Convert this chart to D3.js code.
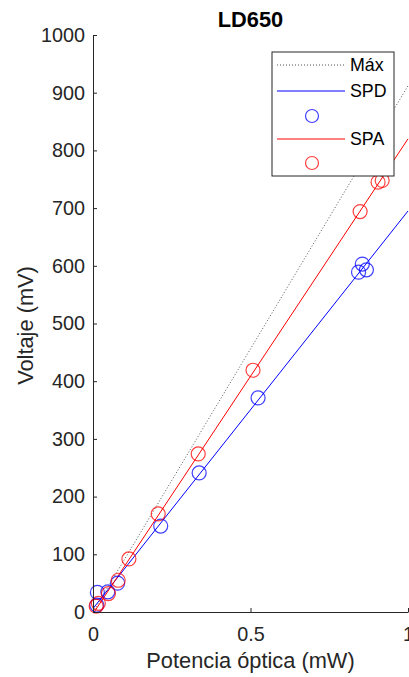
<!DOCTYPE html>
<html>
<head>
<meta charset="utf-8">
<script src="https://cdn.jsdelivr.net/npm/d3@7"></script>
<style>
  body { margin: 0; background: #fff; }
  svg { display: block; font-family: "Liberation Sans", Arial, sans-serif; }
</style>
</head>
<body>
<div id="chart"></div>
<script>
// values (power in mW, voltage in mV)
const xTicks = [0, 0.5, 1];
const yTicks = [0, 100, 200, 300, 400, 500, 600, 700, 800, 900, 1000];

const maxX = [0, 1];
const maxY = [0, 912];

const spdFitX = [0, 1];
const spdFitY = [6, 695];
const spdX = [0.012, 0.014, 0.047, 0.078, 0.215, 0.337, 0.524, 0.843, 0.855, 0.868];
const spdY = [12, 34, 35, 50, 149, 241, 371, 589, 603, 593];

const spaFitX = [0, 1];
const spaFitY = [-3, 820];
const spaX = [0.010, 0.017, 0.049, 0.080, 0.114, 0.207, 0.334, 0.508, 0.848, 0.905, 0.918];
const spaY = [10, 15, 32, 55, 92, 170, 274, 419, 694, 745, 748];

const W = 409, H = 677;
const mLeft = 93, mRight = 408, mTop = 35, mBottom = 612;
const ink = '#262626';

const svg = d3.select('#chart').append('svg')
  .attr('width', W)
  .attr('height', H);

const x = d3.scaleLinear().domain([0, 1]).range([mLeft, mRight]);
const y = d3.scaleLinear().domain([0, 1000]).range([mBottom, mTop]);

svg.append('defs').append('clipPath').attr('id', 'plot')
  .append('rect')
  .attr('x', mLeft).attr('y', mTop)
  .attr('width', mRight - mLeft + 1).attr('height', mBottom - mTop);

const zip = (xs, ys) => xs.map((v, i) => [v, ys[i]]);
const line = d3.line().x(d => x(d[0])).y(d => y(d[1]));

const plot = svg.append('g').attr('clip-path', 'url(#plot)');

// fitted lines
plot.append('path').datum(zip(maxX, maxY))
  .attr('d', line).attr('fill', 'none')
  .attr('stroke', '#555').attr('stroke-width', 1)
  .attr('stroke-dasharray', '1,2');
plot.append('path').datum(zip(spdFitX, spdFitY))
  .attr('d', line).attr('fill', 'none')
  .attr('stroke', '#0000ff').attr('stroke-width', 1);
plot.append('path').datum(zip(spaFitX, spaFitY))
  .attr('d', line).attr('fill', 'none')
  .attr('stroke', '#ff0000').attr('stroke-width', 1);

// measured points
svg.append('g').selectAll('circle')
  .data(zip(spdX, spdY))
  .join('circle')
  .attr('cx', d => x(d[0])).attr('cy', d => y(d[1])).attr('r', 7)
  .attr('fill', 'none').attr('stroke', '#0000ff')
  .attr('stroke-opacity', 0.75).attr('stroke-width', 1.2);
svg.append('g').selectAll('circle')
  .data(zip(spaX, spaY))
  .join('circle')
  .attr('cx', d => x(d[0])).attr('cy', d => y(d[1])).attr('r', 7)
  .attr('fill', 'none').attr('stroke', '#ff0000')
  .attr('stroke-opacity', 0.75).attr('stroke-width', 1.2);

// axes (ticks inward, MATLAB style)
const xAxis = svg.append('g')
  .attr('transform', `translate(0,${mBottom})`)
  .call(d3.axisBottom(x).tickValues(xTicks).tickSize(-4).tickSizeOuter(0)
    .tickPadding(15).tickFormat(d3.format('')));
const yAxis = svg.append('g')
  .attr('transform', `translate(${mLeft},0)`)
  .call(d3.axisLeft(y).tickValues(yTicks).tickSize(-4).tickSizeOuter(0)
    .tickPadding(8).tickFormat(d3.format('d')));

[xAxis, yAxis].forEach(a => {
  a.select('.domain').attr('stroke', ink);
  a.selectAll('.tick line').attr('stroke', ink);
  a.selectAll('.tick text').attr('fill', ink).attr('font-size', 19.8)
    .attr('font-family', '"Liberation Sans", Arial, sans-serif');
});

// title and axis labels
svg.append('text')
  .attr('x', (mLeft + mRight) / 2).attr('y', 27)
  .attr('text-anchor', 'middle').attr('font-size', 21.8).attr('font-weight', 'bold')
  .attr('fill', '#000').text('LD650');
svg.append('text')
  .attr('x', (mLeft + mRight) / 2).attr('y', 668)
  .attr('text-anchor', 'middle').attr('font-size', 21.8)
  .attr('fill', ink).text('Potencia óptica (mW)');
svg.append('text')
  .attr('transform', `translate(33,${(mTop + mBottom) / 2 + 2}) rotate(-90)`)
  .attr('text-anchor', 'middle').attr('font-size', 21.8)
  .attr('fill', ink).text('Voltaje (mV)');

// legend
const lg = svg.append('g');
lg.append('rect')
  .attr('x', 272).attr('y', 52).attr('width', 122).attr('height', 124)
  .attr('fill', '#fff').attr('stroke', ink).attr('stroke-width', 1);
const entries = [
  {label: 'Máx', y: 65, kind: 'line', color: '#555', dash: '1,2'},
  {label: 'SPD', y: 91, kind: 'line', color: '#0000ff'},
  {y: 116, kind: 'dot', color: '#0000ff'},
  {label: 'SPA', y: 139, kind: 'line', color: '#ff0000'},
  {y: 163, kind: 'dot', color: '#ff0000'}
];
entries.forEach(e => {
  if (e.kind === 'line') {
    lg.append('line')
      .attr('x1', 277).attr('x2', 345).attr('y1', e.y).attr('y2', e.y)
      .attr('stroke', e.color).attr('stroke-width', 1)
      .attr('stroke-dasharray', e.dash || null);
    lg.append('text')
      .attr('x', 350).attr('y', e.y).attr('dy', '0.36em')
      .attr('font-size', 17.8).attr('fill', '#000').text(e.label);
  } else {
    lg.append('circle')
      .attr('cx', 312).attr('cy', e.y).attr('r', 6.5)
      .attr('fill', 'none').attr('stroke', e.color)
      .attr('stroke-opacity', 0.75).attr('stroke-width', 1.2);
  }
});
</script>
</body>
</html>
